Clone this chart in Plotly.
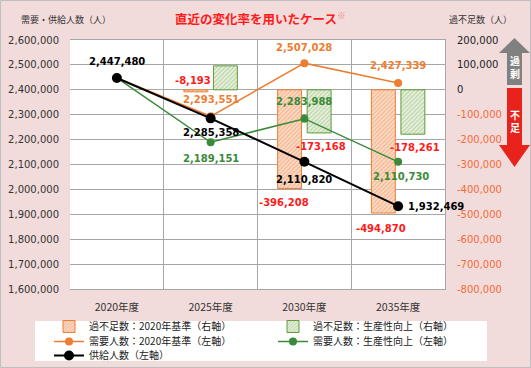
import plotly.graph_objects as go

# data
years = ['2020年度', '2025年度', '2030年度', '2035年度']
supply = [2447480, 2285358, 2110820, 1932469]
demand_base = [2447480, 2293551, 2507028, 2427339]
demand_prod = [2447480, 2189151, 2283988, 2110730]
gap_base = [None, -8193, -396208, -494870]
gap_prod = [None, 96207, -173168, -178261]

left_ticks = list(range(1600000, 2600001, 100000))
right_ticks = list(range(-800000, 200001, 100000))

ORANGE = '#ED7D31'
GREEN = '#3A8A3A'
RED = '#FF1A1A'
JP = 'Noto Sans CJK JP'
NUM = 'DejaVu Sans'

# plot area in pixels (for shapes outside the axes)
L, R, T, B = 70, 445, 40, 289


def px_x(px):
    return (px - L) / (R - L)


def px_y(py):
    return (B - py) / (B - T)


def pp(px, py):
    return '%.4f,%.4f' % (px_x(px), px_y(py))


x = list(range(len(years)))

fig = go.Figure()
fig.add_trace(go.Bar(x=x, y=gap_base, name='過不足数：2020年基準（右軸）', yaxis='y', legend='legend',
                     marker=dict(color='#FAD3BC', line=dict(color=ORANGE, width=1),
                                 pattern=dict(shape='/', fgcolor='#F08A50', bgcolor='#FBDCC8', size=3, solidity=0.4))))
fig.add_trace(go.Bar(x=x, y=gap_prod, name='過不足数：生産性向上（右軸）', yaxis='y', legend='legend',
                     marker=dict(color='#E2EFDA', line=dict(color='#5E9A3A', width=1),
                                 pattern=dict(shape='/', fgcolor='#8CB369', bgcolor='#E8F1DE', size=3, solidity=0.4))))
fig.add_trace(go.Scatter(x=x, y=demand_base, name='需要人数：2020年基準（左軸）', yaxis='y2', mode='lines+markers',
                         legend='legend2', line=dict(color=ORANGE, width=1.5), marker=dict(size=8, color=ORANGE)))
fig.add_trace(go.Scatter(x=x, y=demand_prod, name='需要人数：生産性向上（左軸）', yaxis='y2', mode='lines+markers',
                         legend='legend2', line=dict(color=GREEN, width=1.5), marker=dict(size=8, color=GREEN)))
fig.add_trace(go.Scatter(x=x, y=supply, name='供給人数（左軸）', yaxis='y2', mode='lines+markers',
                         legend='legend3', line=dict(color='black', width=2), marker=dict(size=10, color='black')))

# data labels: (series, index, yshift, xshift, xanchor, colour)
line_labels = [
    (supply, 0, 16, 0, 'center', 'black'),
    (supply, 1, -14, 0, 'center', 'black'),
    (supply, 2, -18, 0, 'center', 'black'),
    (supply, 3, 0, 8, 'left', 'black'),
    (demand_base, 1, 17, 0, 'center', ORANGE),
    (demand_base, 2, 16, 0, 'center', ORANGE),
    (demand_base, 3, 17, 0, 'center', ORANGE),
    (demand_prod, 1, -16, 0, 'center', GREEN),
    (demand_prod, 2, 17, 0, 'center', GREEN),
    (demand_prod, 3, -15, 3, 'center', GREEN),
]
for s, i, ys, xs, xa, c in line_labels:
    fig.add_annotation(x=i, y=s[i], yref='y2', text='<b>{:,}</b>'.format(s[i]), showarrow=False,
                       yshift=ys, xshift=xs, xanchor=xa, yanchor='middle',
                       font=dict(family=NUM, size=10, color=c))

bar_labels = [
    (gap_base, 1, 9, -18),
    (gap_base, 2, -14, -20),
    (gap_base, 3, -15, -17),
    (gap_prod, 2, -14, 17),
    (gap_prod, 3, -13, 17),
]
for s, i, ys, xs in bar_labels:
    fig.add_annotation(x=i, y=s[i] if s[i] < -50000 else 0, yref='y', text='<b>{:,}</b>'.format(s[i]),
                       showarrow=False, yshift=ys, xshift=xs, xanchor='center', yanchor='middle',
                       font=dict(family=NUM, size=10, color=RED))


def note(px, py, text, font):
    fig.add_annotation(xref='paper', yref='paper', x=px_x(px), y=px_y(py), text=text, showarrow=False,
                       xanchor='center', yanchor='middle', font=font)


# titles and arrow texts
note(260, 18, '<b>直近の変化率を用いたケース</b><sup><span style="color:#F08080">※</span></sup>',
     dict(family=JP, size=12.5, color='#FF1A1A'))
note(66, 19, '需要・供給人数（人）', dict(family=JP, size=9, color='#333333'))
note(480, 19, '過不足数（人）', dict(family=JP, size=9, color='#333333'))
note(514.5, 67, '<b>過<br>剰</b>', dict(family=JP, size=10, color='white'))
note(514.5, 121, '<b>不<br>足</b>', dict(family=JP, size=10, color='white'))

shapes = [
    dict(type='rect', xref='paper', yref='paper', x0=px_x(35), x1=px_x(487), y0=px_y(361), y1=px_y(321),
         fillcolor='white', line=dict(width=0), layer='below'),
    dict(type='rect', xref='paper', yref='paper', x0=px_x(0.5), x1=px_x(530.5), y0=px_y(367.5), y1=px_y(0.5),
         line=dict(color='#BFBFBF', width=1), layer='below'),
    dict(type='path', xref='paper', yref='paper', fillcolor='#808080', line=dict(width=0),
         path='M' + 'L'.join([pp(514.5, 38), pp(530, 53), pp(522, 53), pp(522, 85), pp(507, 85),
                              pp(507, 53), pp(499, 53)]) + 'Z'),
    dict(type='path', xref='paper', yref='paper', fillcolor='#E8231C', line=dict(width=0),
         path='M' + 'L'.join([pp(507, 88), pp(522, 88), pp(522, 145), pp(530, 145), pp(514.5, 167),
                              pp(499, 145), pp(507, 145)]) + 'Z'),
]

right_text = ['<span style="color:%s">%s</span>' % ('#222222' if v >= 0 else '#F26B3A', '{:,}'.format(v))
              for v in right_ticks]

leg = dict(orientation='h', x=px_x(49), xanchor='left', yanchor='top', bgcolor='rgba(0,0,0,0)',
           entrywidth=179, entrywidthmode='pixels', itemwidth=30,
           font=dict(family=JP, size=10, color='#222222'), traceorder='normal')

fig.update_layout(
    width=531, height=368, autosize=False,
    margin=dict(l=L, r=531 - R, t=T, b=368 - B, autoexpand=False),
    paper_bgcolor='#F2DCDB', plot_bgcolor='white',
    barmode='group', bargap=0.37, bargroupgap=0.19,
    font=dict(family=NUM, size=10, color='#333333'),
    shapes=shapes,
    showlegend=True,
    legend=dict(leg, y=px_y(312)),
    legend2=dict(leg, y=px_y(327)),
    legend3=dict(leg, y=px_y(341)),
    xaxis=dict(range=[-0.5, 3.5], tickmode='array', tickvals=x, ticktext=years, showgrid=False,
               showline=True, linecolor='#A6A6A6', mirror=True, zeroline=False, ticks='',
               ticklabelstandoff=8, tickfont=dict(family=JP, size=10.5, color='#333333'),
               minor=dict(tickmode='array', tickvals=[0.5, 1.5, 2.5], showgrid=True, gridcolor='#A6A6A6',
                          gridwidth=1, ticklen=0)),
    yaxis=dict(side='right', range=[-800000, 200000], tickmode='array', tickvals=right_ticks, ticktext=right_text,
               showgrid=True, gridcolor='#A6A6A6', zeroline=False, showline=True, linecolor='#A6A6A6',
               ticks='', ticklabelstandoff=9, tickfont=dict(family=NUM, size=10)),
    yaxis2=dict(side='left', overlaying='y', range=[1600000, 2600000], tickmode='array', tickvals=left_ticks,
                tickformat=',', showgrid=False, zeroline=False, ticks='', ticklabelstandoff=10,
                tickfont=dict(family=NUM, size=10, color='#333333')),
)

fig.write_html('out.html', config={'displayModeBar': False}, post_script="document.body.style.margin='0';")
